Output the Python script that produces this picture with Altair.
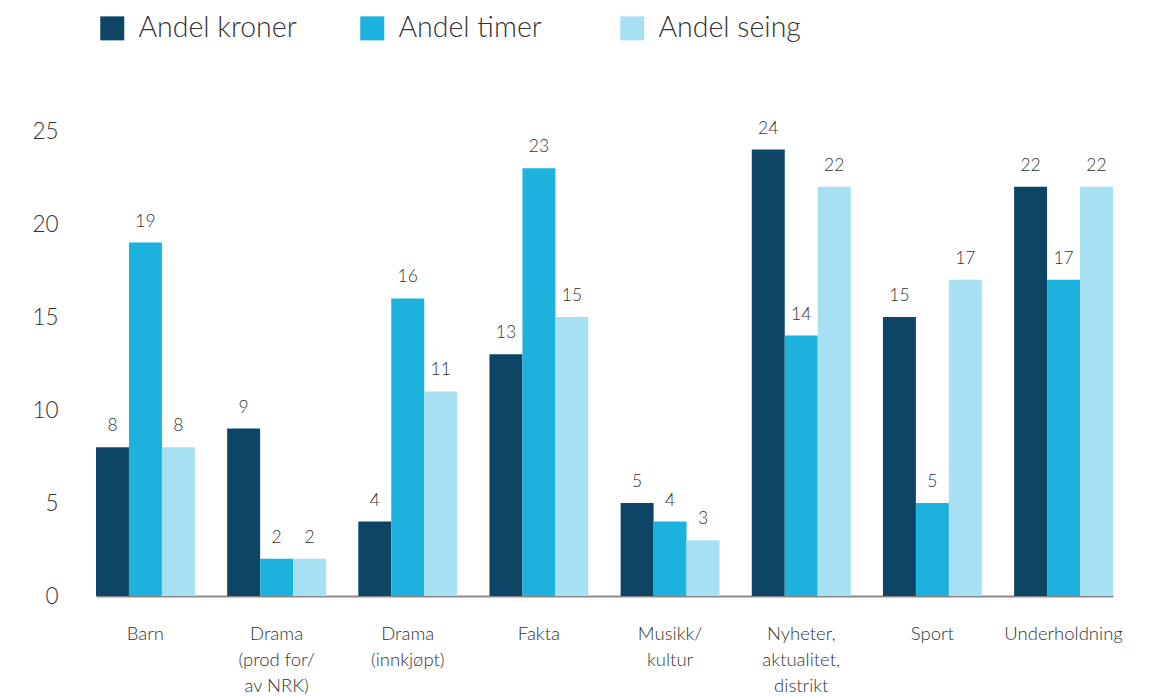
import altair as alt
import pandas as pd

categories = ["Barn", "Drama|(prod for/|av NRK)", "Drama|(innkjøpt)", "Fakta",
              "Musikk/|kultur", "Nyheter,|aktualitet,|distrikt", "Sport", "Underholdning"]
series = ["Andel kroner", "Andel timer", "Andel seing"]
andel_kroner = [8, 9, 4, 13, 5, 24, 15, 22]
andel_timer = [19, 2, 16, 23, 4, 14, 5, 17]
andel_seing = [8, 2, 11, 15, 3, 22, 17, 22]
colors = ["#0e4466", "#1db2de", "#a6e0f2"]

rows = []
for s, vals in zip(series, [andel_kroner, andel_timer, andel_seing]):
    for c, v in zip(categories, vals):
        rows.append({"kategori": c, "serie": s, "verdi": v})
df = pd.DataFrame(rows)

FONT = "Lato"
W = 300

x_enc = alt.X("kategori:N", sort=categories, title=None,
              scale=alt.Scale(paddingInner=0.246, paddingOuter=0),
              axis=alt.Axis(labelExpr="split(datum.label, '|')", labelAngle=0,
                            labelFontSize=18.5, labelLineHeight=26, labelPadding=28,
                            labelColor="#333333", labelFont=FONT, labelFontWeight=W,
                            ticks=False, domainColor="#8a8a8a", domainWidth=2,
                            labelBaseline="top"))
xoff = alt.XOffset("serie:N", sort=series)
y_enc = alt.Y("verdi:Q", title=None,
              scale=alt.Scale(domain=[0, 25], nice=False),
              axis=alt.Axis(values=[0, 5, 10, 15, 20, 25], grid=False, domain=False,
                            ticks=False, labelFontSize=22.5, labelPadding=38,
                            labelColor="#333333", labelFont=FONT, labelFontWeight=W))

bars = alt.Chart(df).mark_bar().encode(
    x=x_enc, xOffset=xoff, y=y_enc,
    color=alt.Color("serie:N", sort=series,
                    scale=alt.Scale(domain=series, range=colors),
                    legend=alt.Legend(title=None, orient="none", legendX=2, legendY=-117,
                                      direction="horizontal", columns=3, gridAlign="all",
                                      columnPadding=61, symbolType="square", symbolSize=576,
                                      symbolStrokeWidth=0, symbolOpacity=1,
                                      labelFontSize=28.5, labelFont=FONT, labelColor="#333333",
                                      labelFontWeight=W, labelOffset=12, labelLimit=400)),
)

texts = alt.Chart(df).mark_text(baseline="bottom", dy=-12, fontSize=17.5, font=FONT,
                                fontWeight=W, color="#333333").encode(
    x=alt.X("kategori:N", sort=categories), xOffset=xoff,
    y=alt.Y("verdi:Q"), text=alt.Text("verdi:Q"),
)

chart = alt.layer(bars, texts).properties(
    width=1017, height=465,
    autosize=alt.AutoSizeParams(type="none"),
    padding={"left": 88, "top": 123, "right": 20, "bottom": 110},
).configure(background="white").configure_view(stroke=None, strokeWidth=0)

chart.save("out.html", embed_options={"renderer": "svg", "actions": False})
